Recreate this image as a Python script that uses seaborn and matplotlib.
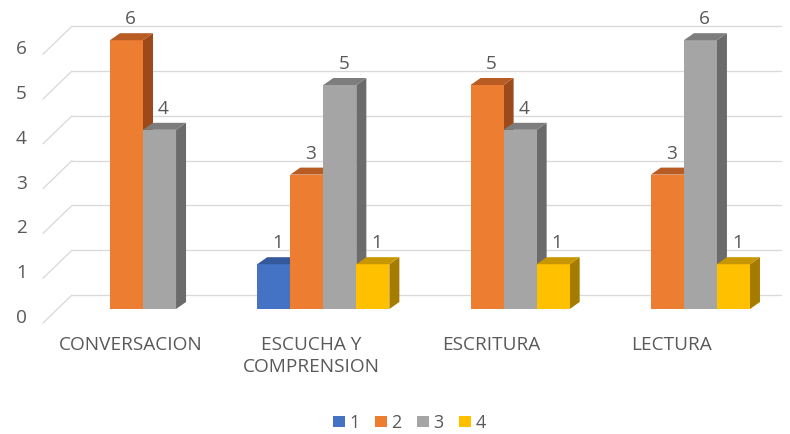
import matplotlib
matplotlib.use("Agg")
import matplotlib.pyplot as plt
import matplotlib.transforms as mtransforms
from matplotlib.patches import Polygon
import seaborn as sns
import pandas as pd
import numpy as np

categories = ["CONVERSACION", "ESCUCHA Y\nCOMPRENSION", "ESCRITURA", "LECTURA"]
series_names = ["1", "2", "3", "4"]
s1 = [np.nan, 1, np.nan, np.nan]
s2 = [6, 3, 5, 3]
s3 = [4, 5, 4, 6]
s4 = [np.nan, 1, 1, 1]
yticks = [0, 1, 2, 3, 4, 5, 6]

front_cols = ["#4472C4", "#ED7D31", "#A5A5A5", "#FFC000"]
top_cols = ["#34589C", "#B85C24", "#7D7D7D", "#C89600"]
side_cols = ["#2A4A86", "#9C4A1A", "#6B6B6B", "#A67C00"]

rows = []
for name, vals in zip(series_names, [s1, s2, s3, s4]):
    for c, v in zip(categories, vals):
        if not np.isnan(v):
            rows.append({"cat": c, "series": name, "val": v})
df = pd.DataFrame(rows)

sns.set_theme(style="white")
plt.rcParams["font.family"] = ["Open Sans", "DejaVu Sans"]
TXT = "#595959"
FS = 19
DPI = 72
fig = plt.figure(figsize=(790 / DPI, 434 / DPI), dpi=DPI)
ax = fig.add_axes([57 / 790, 125 / 434, (766 - 57) / 790, 300 / 434])

sns.barplot(data=df, x="cat", y="val", hue="series", order=categories,
            hue_order=series_names, palette=front_cols, width=0.733,
            saturation=1, ax=ax, linewidth=0, zorder=5)

ax.set_xlim((57 - 143) / 180.3, (766 - 143) / 180.3)
ax.set_ylim(0, 300 / 44.8)
ax.set_autoscale_on(False)
for s in ax.spines.values():
    s.set_visible(False)
ax.set_xlabel("")
ax.set_ylabel("")

ax.set_yticks(yticks)
ax.set_yticklabels([str(t) for t in yticks])
ax.tick_params(axis="y", length=0, pad=30, labelsize=FS, labelcolor=TXT)
ax.tick_params(axis="x", length=0, pad=27, labelsize=FS, labelcolor=TXT)
for lab in ax.get_yticklabels():
    lab.set_transform(lab.get_transform() + mtransforms.ScaledTranslation(0, -7 / 72, fig.dpi_scale_trans))
for lab in ax.get_xticklabels():
    lab.set_transform(lab.get_transform() + mtransforms.ScaledTranslation(-12 / 72, 0, fig.dpi_scale_trans))
    lab.set_linespacing(1.3)
    lab.set_ha("center")

ident = mtransforms.IdentityTransform()

# 3D grid (floor/back wall)
fdx, fdy = -14, -14
bdx, bdy = 15, 14
xl, xr = ax.get_xlim()
for v in yticks:
    x0, y0 = ax.transData.transform((xl, v))
    x1, y1 = ax.transData.transform((xr, v))
    gl = plt.Line2D([x0 + bdx, x1 + bdx], [y0 + bdy, y1 + bdy], color="#D9D9D9",
                    lw=1.3, transform=ident, zorder=1)
    sl = plt.Line2D([x0 + fdx, x0 + bdx], [y0 + fdy, y0 + bdy], color="#D9D9D9",
                    lw=1.3, transform=ident, zorder=1)
    gl.set_clip_on(False)
    sl.set_clip_on(False)
    ax.add_artist(gl)
    ax.add_artist(sl)

# 3D faces on bars
ddx, ddy = 10, 7
bars = []
for hi, cont in enumerate(ax.containers):
    for p in cont.patches:
        if p.get_height() > 0:
            bars.append((p.get_x(), p, hi))
bars.sort(key=lambda t: t[0])
for k, (_, p, hi) in enumerate(bars):
    z = 10 + k
    p.set_zorder(z + 0.5)
    (xa, ya) = ax.transData.transform((p.get_x(), 0))
    (xb, yb) = ax.transData.transform((p.get_x() + p.get_width(), p.get_height()))
    side = Polygon([[xb, ya], [xb + ddx, ya + ddy], [xb + ddx, yb + ddy], [xb, yb]],
                   closed=True, facecolor=side_cols[hi], edgecolor="none",
                   transform=ident, zorder=z)
    top = Polygon([[xa, yb], [xb, yb], [xb + ddx, yb + ddy], [xa + ddx, yb + ddy]],
                  closed=True, facecolor=top_cols[hi], edgecolor="none",
                  transform=ident, zorder=z + 0.6)
    side.set_clip_on(False)
    top.set_clip_on(False)
    ax.add_artist(side)
    ax.add_artist(top)

# data labels
for cont in ax.containers:
    anns = ax.bar_label(cont, fmt="%g", padding=13, fontsize=FS, color=TXT)
    for a in anns:
        a.xyann = (4, 12)
        a.set_zorder(50)

sns.move_legend(ax, "lower center", bbox_to_anchor=(0.518, -0.033),
                bbox_transform=fig.transFigure, ncol=4, frameon=False, title=None,
                fontsize=18, handlelength=0.67, handleheight=0.6,
                handletextpad=0.25, columnspacing=0.85)
for t in ax.get_legend().get_texts():
    t.set_color(TXT)

fig.savefig("out.png", dpi=DPI)
